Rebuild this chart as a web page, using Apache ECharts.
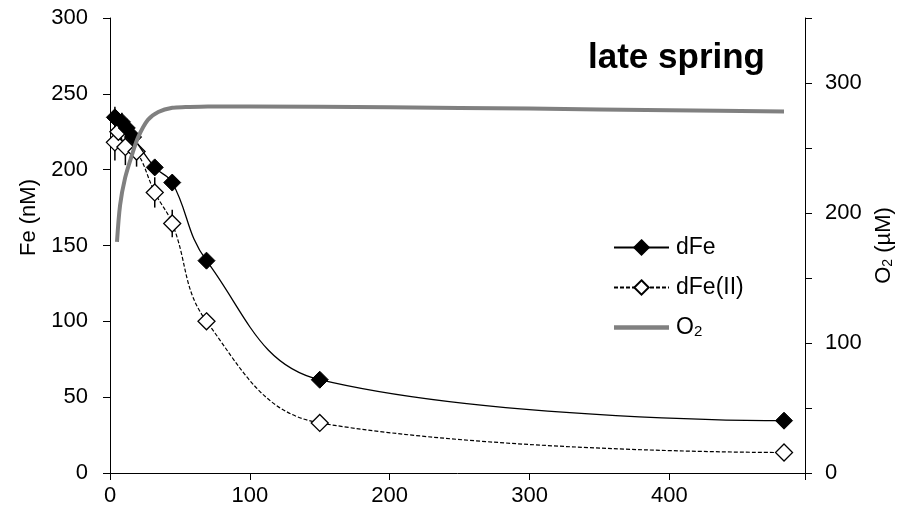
<!DOCTYPE html>
<html>
<head>
<meta charset="utf-8">
<script src="https://cdn.jsdelivr.net/npm/echarts@6/dist/echarts.min.js"></script>
<style>html,body{margin:0;padding:0;background:#fff}#c{width:910px;height:518px}</style>
</head>
<body>
<div id="c"></div>
<script>
// Data
const dFeX   = [3.5, 8.5, 12, 16.5, 32, 44.5, 69, 150, 482];
const dFeY   = [234.5, 231.5, 227.5, 221.5, 201.5, 191.5, 140, 61.5, 34.5];
const dFeErr = [7, 6, 6, 5, 4, 5, 3, 2, 1];
const dFe2X   = [3.5, 6, 11, 19, 32, 44.5, 69, 150, 482];
const dFe2Y   = [218, 225, 215, 212, 185, 164.5, 100, 33, 13.5];
const dFe2Err = [12, 10, 12, 10, 10, 9, 4, 2, 1];
const o2X = [5, 7.2, 10.8, 15.8, 20, 27, 34.5, 44.6, 54, 70, 100, 200, 300, 400, 482];
const o2Y = [177.7, 206, 227, 245, 258, 271.5, 277.7, 281, 281.5, 282, 282, 281.3, 280.3, 279, 278];
const xTicks = [0, 100, 200, 300, 400];

const pairs = (xs, ys) => xs.map((x, i) => [x, ys[i]]);
const errData = (xs, ys, es) => xs.map((x, i) => [x, ys[i] - es[i], ys[i] + es[i]]);

const errRender = function (params, api) {
  const p1 = api.coord([api.value(0), api.value(1)]);
  const p2 = api.coord([api.value(0), api.value(2)]);
  return { type: 'line', shape: { x1: p1[0], y1: p1[1], x2: p2[0], y2: p2[1] },
           style: { stroke: '#000', lineWidth: 1.5 } };
};

const font = 'Liberation Sans, Arial, sans-serif';
const subRich = (fs) => ({
  a: { fontFamily: font, fontSize: fs, color: '#000' },
  s: { fontFamily: font, fontSize: Math.round(fs * 0.65), color: '#000', verticalAlign: 'bottom', padding: [Math.round(fs * 0.4), 0, 0, 0] }
});
const chart = echarts.init(document.getElementById('c'));
chart.setOption({
  animation: false,
  backgroundColor: '#fff',
  grid: { left: 110, right: 105, top: 18, bottom: 45 },
  title: { text: 'late spring', right: 140, top: 36,
           textStyle: { fontFamily: font, fontSize: 35, fontWeight: 'bold', color: '#000' } },
  legend: {
    orient: 'vertical', left: 608, top: 231, itemGap: 17, itemWidth: 55, itemHeight: 18,
    data: ['dFe', 'dFe(II)', { name: 'O2', icon: 'path://M0,0H55V4.5H0Z' }],
    formatter: n => n === 'O2' ? '{a|O}{s|2}' : n,
    textStyle: { fontFamily: font, fontSize: 23, color: '#000', padding: [0, 0, 0, 2], rich: subRich(23) }
  },
  xAxis: {
    type: 'value', min: 0, max: 497, interval: 100,
    axisLine: { lineStyle: { color: '#000', width: 1 } },
    axisTick: { show: true, inside: false, length: 7, lineStyle: { color: '#000' } },
    splitLine: { show: false },
    axisLabel: { fontFamily: font, fontSize: 22, color: '#000', margin: 12,
                 formatter: v => xTicks.includes(v) ? String(v) : '' }
  },
  yAxis: [
    { type: 'value', min: 0, max: 300, interval: 50, position: 'left',
      name: 'Fe (nM)', nameLocation: 'middle', nameGap: 69, nameRotate: 90,
      nameTextStyle: { fontFamily: font, fontSize: 22, color: '#000', padding: [0, 0, 0, 56] },
      axisLine: { show: true, lineStyle: { color: '#000', width: 1 } },
      axisTick: { show: true, length: 7, lineStyle: { color: '#000' } },
      splitLine: { show: false },
      axisLabel: { fontFamily: font, fontSize: 22, color: '#000', margin: 22 } },
    { type: 'value', min: 0, max: 350, interval: 50, position: 'right',
      name: '{a|O}{s|2}{a| (µM)}', nameLocation: 'middle', nameGap: 63, nameRotate: 90,
      nameTextStyle: { fontFamily: font, fontSize: 22, color: '#000', rich: subRich(22) },
      axisLine: { show: true, lineStyle: { color: '#000', width: 1 } },
      axisTick: { show: true, length: 7, lineStyle: { color: '#000' } },
      splitLine: { show: false },
      axisLabel: { fontFamily: font, fontSize: 22, color: '#000', margin: 20,
                   formatter: v => v % 100 === 0 ? String(v) : '' } }
  ],
  series: [
    { name: 'dFe err', type: 'custom', renderItem: errRender, yAxisIndex: 0,
      data: errData(dFeX, dFeY, dFeErr), encode: { x: 0, y: [1, 2] }, z: 1, silent: true },
    { name: 'dFe(II) err', type: 'custom', renderItem: errRender, yAxisIndex: 0,
      data: errData(dFe2X, dFe2Y, dFe2Err), encode: { x: 0, y: [1, 2] }, z: 1, silent: true },
    { name: 'dFe(II)', type: 'line', yAxisIndex: 0, data: pairs(dFe2X, dFe2Y),
      smooth: 0.4, symbol: 'diamond', symbolSize: 17,
      lineStyle: { color: '#000', width: 1.2, type: [4, 2] },
      itemStyle: { color: '#fff', borderColor: '#000', borderWidth: 1.3 }, z: 3 },
    { name: 'dFe', type: 'line', yAxisIndex: 0, data: pairs(dFeX, dFeY),
      smooth: 0.4, symbol: 'diamond', symbolSize: 17,
      lineStyle: { color: '#000', width: 1.3 },
      itemStyle: { color: '#000', borderColor: '#000', borderWidth: 1 }, z: 4 },
    { name: 'O2', type: 'line', yAxisIndex: 1, data: pairs(o2X, o2Y),
      smooth: 0.3, symbol: 'none', showSymbol: false,
      lineStyle: { color: '#808080', width: 4 }, itemStyle: { color: '#808080' }, z: 5 }
  ]
});
</script>
</body>
</html>
